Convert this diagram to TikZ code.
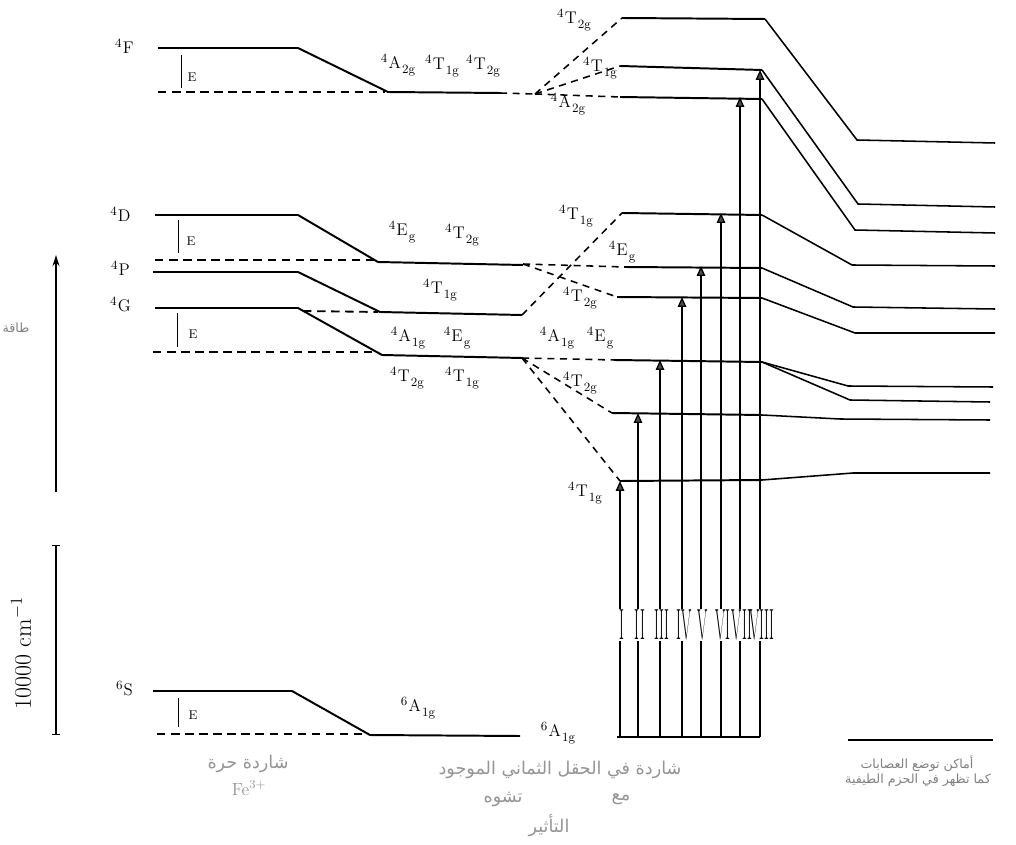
\documentclass[tikz,border=0pt]{standalone}
\usepackage{fontspec}
\usetikzlibrary{arrows.meta}
\newfontfamily\arabicfont[Script=Arabic]{DejaVu Sans}
\TeXXeTstate=1
\newcommand{\trm}[3]{{\small\raisebox{1.1ex}{#1}}\kern0.8pt#2\kern0.8pt{\small\raisebox{-0.8ex}{#3}}}
\newcommand{\ar}[1]{{\arabicfont\beginR #1\endR}}
\begin{document}
\begin{tikzpicture}[x=0.025cm,y=-0.025cm,
  lvl/.style={line width=1.4pt},
  dlvl/.style={line width=1.3pt,dash pattern=on 6pt off 4pt},
  fan/.style={line width=1.1pt,dash pattern=on 5pt off 4pt},
  rlvl/.style={line width=1.1pt},
  trans/.style={line width=0.9pt},
  arrtip/.style={-{Triangle[length=7pt,width=6pt,fill=gray!60!black]}},
  lab/.style={font=\large,inner sep=1pt},
  elab/.style={font=\small,inner sep=1pt},
  num/.style={font=\fontsize{31}{31}\selectfont,xscale=0.34,inner sep=0pt},
  captxt/.style={font=\small,text=black!50,inner sep=1pt},
  bigcap/.style={font=\fontsize{12.5}{15}\selectfont,text=black!42,inner sep=1pt}]
\useasboundingbox (0,0) rectangle (1016,845);
% ---------- axis and scale ----------
\draw[line width=1pt,-{Stealth[length=8pt,width=5pt]}] (56,492) -- (56,255);
\node[captxt] (en) at (16,328) {\ar{طاقة}};
\draw[line width=1pt,{Bar[width=6pt]}-{Bar[width=6pt]}] (56,545) -- (56,735);
\node[rotate=90,font=\fontsize{17}{20}\selectfont,inner sep=1pt] (sc) at (21,653) {10000 cm\textsuperscript{$-$1}};
% ---------- free-ion labels ----------
\node[lab] (F) at (125,48) {\trm{4}{F}{}};
\node[lab] (D) at (121,216) {\trm{4}{D}{}};
\node[lab] (P) at (121,270) {\trm{4}{P}{}};
\node[lab] (G) at (121,306) {\trm{4}{G}{}};
\node[lab] (S) at (125,690) {\trm{6}{S}{}};
% ---------- 4F ----------
\draw[lvl] (158,48) -- (298,48) -- (388,92) -- (500,93);
\draw[dlvl] (158,92) -- (385,92);
\coordinate (fc) at (535,94);
\draw[fan] (500,93) -- (fc);
\draw (181,55) -- (181,88);
\node[elab] at (192,77) {E};
\node[lab] at (398,65) {\trm{4}{A}{2g}};
\node[lab] at (442,66) {\trm{4}{T}{1g}};
\node[lab] at (483,66) {\trm{4}{T}{2g}};
% top fan
\coordinate (a1) at (622,18);
\coordinate (a2) at (620,66);
\coordinate (a3) at (620,97);
\draw[fan] (fc) -- (a1);
\draw[fan] (fc) -- (a2);
\draw[fan] (fc) -- (a3);
\node[lab] at (574,20) {\trm{4}{T}{2g}};
\node[lab] at (600,68) {\trm{4}{T}{1g}};
\node[lab] at (568,104) {\trm{4}{A}{2g}};
% ---------- 4D 4P 4G ----------
\draw[lvl] (155,215) -- (298,215) -- (378,262) -- (523,265);
\draw[dlvl] (155,260) -- (375,260);
\draw (178,220) -- (178,253);
\node[elab] at (191,241) {E};
\draw[lvl] (153,272) -- (298,272) -- (380,312) -- (522,315);
\draw[lvl] (155,308) -- (298,308) -- (382,355) -- (522,358);
\draw[dlvl] (303,311) -- (378,312);
\draw[dlvl] (153,352) -- (378,352);
\draw (177,313) -- (177,347);
\node[elab] at (193,334) {E};
\node[lab] at (402,232) {\trm{4}{E}{g}};
\node[lab] at (462,235) {\trm{4}{T}{2g}};
\node[lab] at (440,290) {\trm{4}{T}{1g}};
\node[lab] at (408,338) {\trm{4}{A}{1g}};
\node[lab] at (457,338) {\trm{4}{E}{g}};
\node[lab] at (407,378) {\trm{4}{T}{2g}};
\node[lab] at (462,378) {\trm{4}{T}{1g}};
% middle fans
\coordinate (d1) at (523,264);
\coordinate (p1) at (522,315);
\coordinate (g1) at (522,358);
\coordinate (b1) at (622,213);
\coordinate (b2) at (625,267);
\coordinate (b3) at (617,297);
\coordinate (b4) at (615,360);
\coordinate (b5) at (612,413);
\coordinate (b6) at (620,481);
\draw[fan] (d1) -- (b2);
\draw[fan] (d1) -- (b3);
\draw[fan] (p1) -- (b1);
\draw[fan] (g1) -- (b4);
\draw[fan] (g1) -- (b5);
\draw[fan] (g1) -- (b6);
\node[lab] at (576,216) {\trm{4}{T}{1g}};
\node[lab] at (622,252) {\trm{4}{E}{g}};
\node[lab] at (580,298) {\trm{4}{T}{2g}};
\node[lab] at (557,338) {\trm{4}{A}{1g}};
\node[lab] at (600,338) {\trm{4}{E}{g}};
\node[lab] at (580,383) {\trm{4}{T}{2g}};
\node[lab] at (585,493) {\trm{4}{T}{1g}};
% ---------- 6S ----------
\draw[lvl] (153,691) -- (292,691) -- (370,735) -- (520,736);
\draw[dlvl] (157,734) -- (365,734);
\draw (178,698) -- (178,727);
\node[elab] at (193,715) {E};
\node[lab] at (418,708) {\trm{6}{A}{1g}};
\node[lab] at (558,733) {\trm{6}{A}{1g}};
% ---------- distorted levels and right column ----------
\coordinate (e1) at (765,19);
\coordinate (e2) at (762,70);
\coordinate (e3) at (762,99);
\coordinate (e4) at (762,215);
\coordinate (e5) at (762,268);
\coordinate (e6) at (762,298);
\coordinate (e7) at (762,362);
\coordinate (e8) at (762,415);
\coordinate (e9) at (762,480);
\draw[lvl] (a1) -- (e1);
\draw[lvl] (a2) -- (e2);
\draw[lvl] (a3) -- (e3);
\draw[lvl] (b1) -- (e4);
\draw[lvl] (b2) -- (e5);
\draw[lvl] (b3) -- (e6);
\draw[lvl] (b4) -- (e7);
\draw[lvl] (b5) -- (e8);
\draw[lvl] (b6) -- (e9);
\draw[rlvl] (e1) -- (857,140) -- (995,143);
\draw[rlvl] (e2) -- (858,204) -- (995,207);
\draw[rlvl] (e3) -- (855,230) -- (995,233);
\draw[rlvl] (e4) -- (852,265) -- (995,266);
\draw[rlvl] (e5) -- (853,307) -- (995,309);
\draw[rlvl] (e6) -- (855,333) -- (995,333);
\draw[rlvl] (e7) -- (848,386) -- (993,387);
\draw[rlvl] (e7) -- (850,400) -- (990,402);
\draw[rlvl] (e8) -- (840,419) -- (990,420);
\draw[rlvl] (e9) -- (853,473) -- (990,473);
\draw[rlvl] (848,740) -- (993,740);
% ---------- transitions ----------
\coordinate (base0) at (617,737);
\coordinate (base1) at (760,737);
\draw[lvl] (base0) -- (base1);
\foreach \i/\x/\y/\r in {1/620/481/I,2/638/413/II,3/660/360/III,4/682/297/IV,5/701/266/V,6/721/213/VI,7/740/97/VII,8/760/70/VIII}{
  \node[num] (n\i) at (\x+2,625) {\r};
  \draw[trans] (\x,737) -- (\x,641);
  \draw[trans,arrtip] (\x,609) -- (\x,\y);
}
% ---------- captions ----------
\node[bigcap] (c1) at (248,764) {\ar{شاردة حرة}};
\node[bigcap] (c2) at (249,788) {Fe\textsuperscript{3+}};
\node[bigcap] (c3) at (560,770) {\ar{شاردة في الحقل الثماني الموجود}};
\node[bigcap] (c4) at (621,799) {\ar{مع}};
\node[bigcap] (c5) at (503,799) {\ar{تشوه}};
\node[bigcap] (c6) at (549,826) {\ar{التأثير}};
\node[captxt] (c7) at (917,764) {\ar{أماكن توضع العصابات}};
\node[captxt] (c8) at (918,780) {\ar{كما تظهر في الحزم الطيفية}};
\end{tikzpicture}
\end{document}
